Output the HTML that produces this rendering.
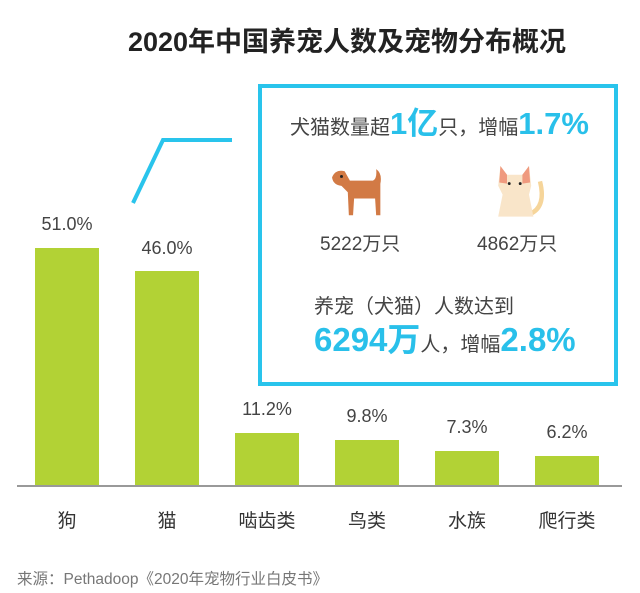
<!DOCTYPE html>
<html><head><meta charset="utf-8"><style>
body{margin:0;width:640px;height:593px;background:#fff;position:relative;overflow:hidden;font-family:"Liberation Sans","Noto Sans CJK SC",sans-serif;color:#444}
.a{position:absolute;white-space:nowrap}
.bar{position:absolute;background:#b2d235;width:64px}
.p{position:absolute;width:100px;text-align:center;font-size:18px;color:#444}
.c{position:absolute;width:100px;text-align:center;font-size:19px;top:506px;color:#333}
.b{color:#29c0ea;font-weight:bold}
</style></head><body>
<div class="a" style="left:0;width:694px;text-align:center;top:20px;font-size:27px;font-weight:bold;color:#222">2020年中国养宠人数及宠物分布概况</div>

<div class="bar" style="left:35px;top:248px;height:238px"></div>
<div class="bar" style="left:135px;top:271px;height:215px"></div>
<div class="bar" style="left:235px;top:433px;height:53px"></div>
<div class="bar" style="left:335px;top:440px;height:46px"></div>
<div class="bar" style="left:435px;top:451px;height:35px"></div>
<div class="bar" style="left:535px;top:456px;height:30px"></div>
<div class="a" style="left:17px;top:485px;width:605px;height:2px;background:#999"></div>

<div class="p" style="left:17px;top:214px">51.0%</div>
<div class="p" style="left:117px;top:238px">46.0%</div>
<div class="p" style="left:217px;top:399px">11.2%</div>
<div class="p" style="left:317px;top:406px">9.8%</div>
<div class="p" style="left:417px;top:417px">7.3%</div>
<div class="p" style="left:517px;top:422px">6.2%</div>

<div class="c" style="left:17px">狗</div>
<div class="c" style="left:117px">猫</div>
<div class="c" style="left:217px">啮齿类</div>
<div class="c" style="left:317px">鸟类</div>
<div class="c" style="left:417px">水族</div>
<div class="c" style="left:517px">爬行类</div>

<svg class="a" style="left:0;top:0" width="640" height="593"><polyline points="133,203 163,140 232,140" fill="none" stroke="#29c4ec" stroke-width="4"/>
<g transform="translate(331,167) scale(1.05)">
<path d="M1 10 Q4 2 13 4 L18 13 L40 13 Q44 11 43 2 Q49 6 47 16 L47 46 L43 46 L42 30 L22 30 L21 46 L17 46 L16 24 L10 18 Q2 17 1 10Z" fill="#d27a45"/>
<circle cx="10" cy="9" r="1.4" fill="#222"/></g>
<g transform="translate(496,166) scale(1.1)">
<path d="M30 44 Q46 38 40 14" fill="none" stroke="#f6d59a" stroke-width="4"/>
<path d="M4 0 L10 8 L24 8 L30 0 L32 18 L30 26 L34 46 L2 46 L6 26 L2 18Z" fill="#f9e5c9"/>
<path d="M4 0 L10 8 L10 16 L3 15Z M30 0 L24 8 L24 16 L31 15Z" fill="#ef9a7f"/>
<circle cx="12" cy="16" r="1.3" fill="#222"/><circle cx="22" cy="16" r="1.3" fill="#222"/></g>
</svg>

<div class="a" style="left:258px;top:84px;width:352px;height:294px;border:4px solid #29c4ec"></div>
<div class="a" style="left:290px;top:98px;font-size:20px;color:#444">犬猫数量超<span class="b" style="font-size:31px">1亿</span>只，增幅<span class="b" style="font-size:31px">1.7%</span></div>
<div class="a" style="left:320px;top:229px;font-size:19px">5222万只</div>
<div class="a" style="left:477px;top:229px;font-size:19px">4862万只</div>
<div class="a" style="left:314px;top:290px;font-size:20px">养宠（犬猫）人数达到</div>
<div class="a" style="left:314px;top:313px;font-size:20px"><span class="b" style="font-size:33px">6294万</span>人，增幅<span class="b" style="font-size:33px">2.8%</span></div>

<div class="a" style="left:17px;top:567px;font-size:15.5px;color:#777">来源：Pethadoop《2020年宠物行业白皮书》</div>
</body></html>
